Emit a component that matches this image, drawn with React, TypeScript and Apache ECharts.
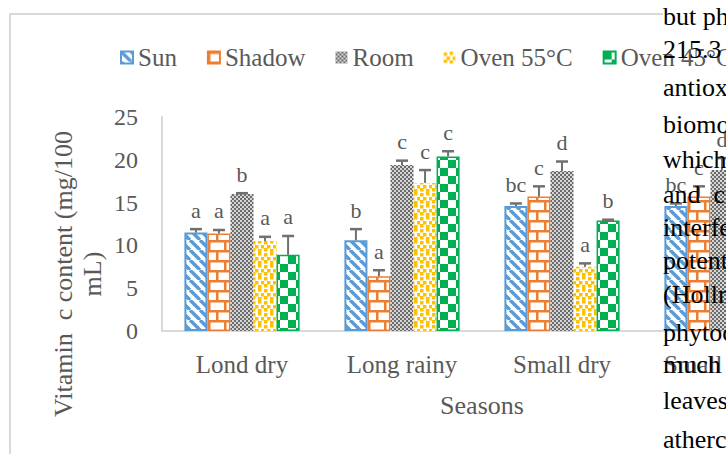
import React, { useEffect, useRef } from "react";
import * as echarts from "echarts";

const categories = ["Lond dry", "Long rainy", "Small dry", "Small rainy"];
const seriesNames = ["Sun", "Shadow", "Room", "Oven 55°C", "Oven 45°C"];

const sunValues = [11.5, 10.6, 14.6, 14.6];
const shadowValues = [11.4, 6.4, 15.7, 15.7];
const roomValues = [16.0, 19.4, 18.7, 18.8];
const oven55Values = [10.5, 17.3, 7.5, 7.5];
const oven45Values = [8.9, 20.4, 12.9, 12.9];

const sunErrors = [0.4, 1.3, 0.3, 0.3];
const shadowErrors = [0.4, 0.7, 1.2, 1.2];
const roomErrors = [0.1, 0.5, 1.1, 1.4];
const oven55Errors = [0.5, 1.5, 0.4, 0.4];
const oven45Errors = [2.2, 0.6, 0.1, 0.1];

const sunLetters = ["a", "b", "bc", "bc"];
const shadowLetters = ["a", "a", "c", "c"];
const roomLetters = ["b", "c", "d", "d"];
const oven55Letters = ["a", "c", "a", "a"];
const oven45Letters = ["a", "c", "b", "b"];

const yMin = 0;
const yMax = 25;
const yInterval = 5;

const yAxisTitle = "Vitamin  c content (mg/100\nmL)";
const xAxisTitle = "Seasons";

const docLines = ["but ph", "215.3", "antiox", "biomo", "which", "and\u00A0\u00A0c", "interfe", "potent", "(Hollm", "phytoc", "much", "leaves", "atherc"];
const docBaselines = [24, 57, 95, 132, 167, 202, 235, 268, 302, 340, 372, 408, 447];

const FONT = '"Liberation Serif", "Times New Roman", serif';
const GREY = "#595959";

function makePattern(w: number, h: number, draw: (ctx: CanvasRenderingContext2D) => void) {
  const c = document.createElement("canvas");
  c.width = w;
  c.height = h;
  const ctx = c.getContext("2d")!;
  draw(ctx);
  return { image: c.toDataURL(), repeat: "repeat", imageWidth: w, imageHeight: h } as any;
}

export default function App() {
  const ref = useRef<HTMLDivElement>(null);
  useEffect(() => {
    if (!ref.current) return;
    const chart = echarts.init(ref.current, undefined, { renderer: "svg" });

    const sunPat = makePattern(10, 10, (ctx) => {
      ctx.fillStyle = "#fff";
      ctx.fillRect(0, 0, 10, 10);
      ctx.strokeStyle = "#5B9BD5";
      ctx.lineWidth = 3.4;
      for (const x0 of [-10, 0, 10]) {
        ctx.beginPath();
        ctx.moveTo(x0, 0);
        ctx.lineTo(x0 + 10, 10);
        ctx.stroke();
      }
    });
    const shadowPat = makePattern(16, 20, (ctx) => {
      ctx.fillStyle = "#fff";
      ctx.fillRect(0, 0, 16, 20);
      ctx.fillStyle = "#ED7D31";
      ctx.fillRect(0, 0, 16, 2.5);
      ctx.fillRect(0, 10, 16, 2.5);
      ctx.fillRect(0, 0, 2.5, 10);
      ctx.fillRect(8, 10, 2.5, 10);
    });
    const roomPat = makePattern(4, 4, (ctx) => {
      ctx.fillStyle = "#6a6a6a";
      ctx.fillRect(0, 0, 4, 4);
      ctx.fillStyle = "#d6d6d6";
      ctx.fillRect(0, 0, 2, 2);
      ctx.fillRect(2, 2, 2, 2);
    });
    const oven55Pat = makePattern(12, 12, (ctx) => {
      ctx.fillStyle = "#fff";
      ctx.fillRect(0, 0, 12, 12);
      ctx.fillStyle = "#FFC000";
      const pts = [[0, 1], [6, 0], [3, 5], [9, 5], [0, 8], [6, 9]];
      for (const [x, y] of pts) ctx.fillRect(x, y, 3.5, 3.5);
    });
    const oven45Pat = makePattern(16, 16, (ctx) => {
      ctx.fillStyle = "#fff";
      ctx.fillRect(0, 0, 16, 16);
      ctx.fillStyle = "#00B050";
      ctx.fillRect(0, 0, 8, 8);
      ctx.fillRect(8, 8, 8, 8);
    });

    const values = [sunValues, shadowValues, roomValues, oven55Values, oven45Values];
    const errors = [sunErrors, shadowErrors, roomErrors, oven55Errors, oven45Errors];
    const letters = [sunLetters, shadowLetters, roomLetters, oven55Letters, oven45Letters];
    const fills = [sunPat, shadowPat, roomPat, oven55Pat, oven45Pat];
    const borders = ["#5B9BD5", "#ED7D31", "#8a8a8a", "#FFC000", "#00B050"];
    const borderWidths = [2, 1.5, 0, 0, 1.5];

    const barSeries = seriesNames.map((name, si) => ({
      name,
      type: "bar",
      barGap: "0%",
      barCategoryGap: "28%",
      data: values[si],
      itemStyle: { color: fills[si], borderColor: borders[si], borderWidth: borderWidths[si] },
      z: 2,
    }));

    const errData: number[][] = [];
    for (let si = 0; si < 5; si++)
      for (let ci = 0; ci < categories.length; ci++)
        errData.push([ci, si, values[si][ci], errors[si][ci]]);

    const errSeries = {
      type: "custom",
      z: 5,
      encode: { x: 0, y: 2 },
      data: errData,
      renderItem: (_p: any, api: any) => {
        const ci = api.value(0);
        const si = api.value(1);
        const v = api.value(2);
        const e = api.value(3);
        const band = api.size([1, 0])[0];
        const bw = (band * 0.72) / 5;
        const base = api.coord([ci, v]);
        const x = base[0] + (si - 2) * bw;
        const yTop = api.coord([ci, v + e])[1];
        return {
          type: "group",
          children: [
            { type: "line", shape: { x1: x, y1: base[1], x2: x, y2: yTop }, style: { stroke: "#707070", lineWidth: 2 } },
            { type: "line", shape: { x1: x - 6, y1: yTop, x2: x + 6, y2: yTop }, style: { stroke: "#707070", lineWidth: 2.5 } },
            {
              type: "text",
              x,
              y: yTop - 8,
              style: { text: letters[si][ci], fill: GREY, font: `22px ${FONT}`, align: "center", verticalAlign: "bottom" },
            },
          ],
        };
      },
    };

    const graphics: any[] = [
      {
        type: "polyline",
        shape: { points: [[663, 14], [10, 14], [10, 470]] },
        style: { stroke: "#D9D9D9", lineWidth: 2, fill: "none" },
        z: 0,
      },
      {
        type: "text",
        x: 78,
        y: 274,
        rotation: Math.PI / 2,
        style: { text: yAxisTitle, fill: GREY, font: `26px ${FONT}`, align: "center", verticalAlign: "middle", lineHeight: 29 },
        z: 10,
      },
    ];
    docLines.forEach((t, i) => {
      graphics.push({
        type: "text",
        x: 663,
        y: docBaselines[i] - 8,
        style: { text: t, fill: "#000", font: `26px ${FONT}`, align: "left", verticalAlign: "middle" },
        z: 100,
      });
    });

    chart.setOption({
      animation: false,
      backgroundColor: "#fff",
      textStyle: { fontFamily: FONT },
      legend: {
        data: seriesNames,
        left: 120,
        top: 45,
        padding: 0,
        itemWidth: 12,
        itemHeight: 12,
        itemGap: 30,
        icon: "rect",
        textStyle: { color: GREY, fontSize: 25, fontFamily: FONT },
      },
      grid: { left: 162, right: 98, top: 117, bottom: 123 },
      xAxis: {
        type: "category",
        data: categories,
        axisLine: { lineStyle: { color: "#D9D9D9", width: 2 } },
        axisTick: { show: false },
        axisLabel: { color: GREY, fontSize: 25, fontFamily: FONT, margin: 21 },
        name: xAxisTitle,
        nameLocation: "middle",
        nameGap: 61,
        nameTextStyle: { color: GREY, fontSize: 26, fontFamily: FONT },
      },
      yAxis: {
        type: "value",
        min: yMin,
        max: yMax,
        interval: yInterval,
        splitLine: { show: false },
        axisLine: { show: true, lineStyle: { color: "#D9D9D9", width: 2 } },
        axisTick: { show: false },
        axisLabel: { color: GREY, fontSize: 24, fontFamily: FONT, margin: 24 },
      },
      graphic: graphics,
      series: [...barSeries, errSeries],
    } as any);
    return () => chart.dispose();
  }, []);
  return (
    <div style={{ position: "fixed", left: 0, top: 0, width: 726, height: 454, overflow: "hidden", background: "#fff" }}>
      <div ref={ref} style={{ width: 900, height: 454 }} />
    </div>
  );
}
